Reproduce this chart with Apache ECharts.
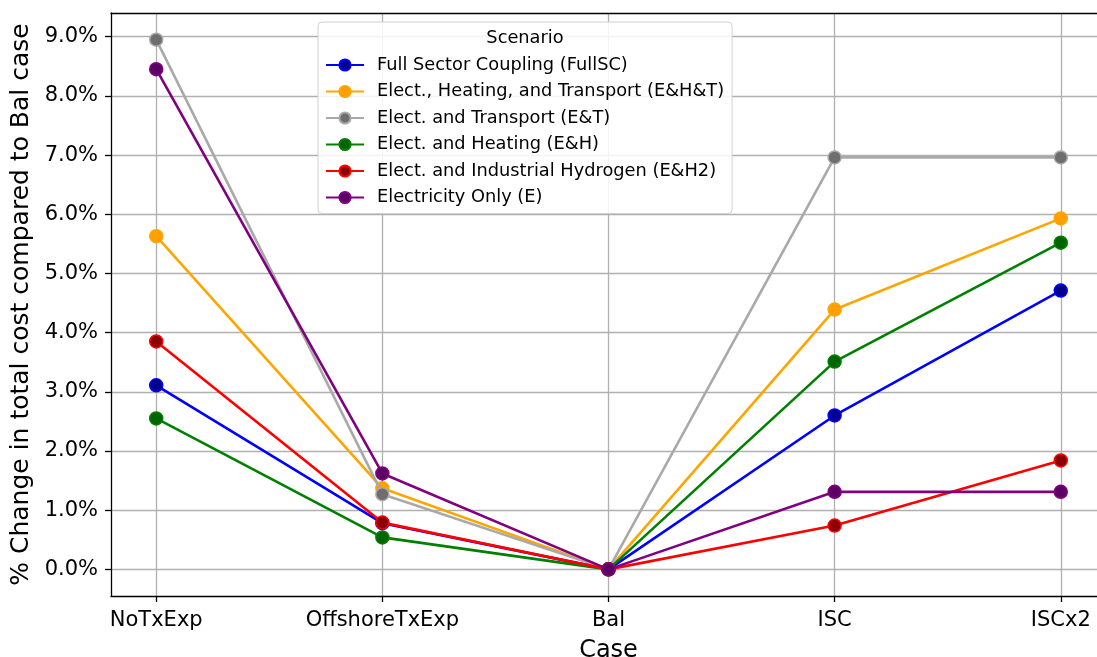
<!DOCTYPE html>
<html>
<head>
<meta charset="utf-8">
<script src="https://cdn.jsdelivr.net/npm/echarts@6/dist/echarts.min.js"></script>
<style>
html,body{margin:0;padding:0;background:#fff;}
#c{width:1097px;height:657px;}
</style>
</head>
<body>
<div id="c"></div>
<script>
// ---- data ----
const categories = ['NoTxExp', 'OffshoreTxExp', 'Bal', 'ISC', 'ISCx2'];
const yTicks = [0, 1, 2, 3, 4, 5, 6, 7, 8, 9];
const seriesNames = [
  'Full Sector Coupling (FullSC)',
  'Elect., Heating, and Transport (E&H&T)',
  'Elect. and Transport (E&T)',
  'Elect. and Heating (E&H)',
  'Elect. and Industrial Hydrogen (E&H2)',
  'Electricity Only (E)'
];
const fullSC = [3.11, 0.78, 0.0, 2.60, 4.71];
const eht    = [5.63, 1.37, 0.0, 4.39, 5.93];
const et     = [8.95, 1.27, 0.0, 6.96, 6.96];
const eh     = [2.55, 0.54, 0.0, 3.51, 5.52];
const eh2    = [3.85, 0.79, 0.0, 0.74, 1.84];
const eOnly  = [8.45, 1.62, 0.0, 1.31, 1.31];
const seriesValues = [fullSC, eht, et, eh, eh2, eOnly];

// ---- styles ----
const lineColors   = ['#0000ff', '#ffa500', '#a9a9a9', '#008000', '#ff0000', '#800080'];
const markerColors = ['#00008b', '#ff9f00', '#6e6e6e', '#006400', '#8b0000', '#5c0066'];
const FONT = 'DejaVu Sans';

const chart = echarts.init(document.getElementById('c'), null, {renderer: 'canvas'});

const series = seriesNames.map((name, i) => ({
  name: name,
  type: 'line',
  data: seriesValues[i].map((v, k) => [k, v]),
  symbol: 'circle',
  symbolSize: 13,
  lineStyle: {color: lineColors[i], width: 2.6},
  itemStyle: {color: markerColors[i], borderColor: lineColors[i], borderWidth: 1.5},
  emphasis: {disabled: true},
  z: 3 + i
}));

chart.setOption({
  animation: false,
  backgroundColor: '#ffffff',
  grid: {left: 111, top: 13, width: 995, height: 583, containLabel: false, outerBoundsMode: 'none'},
  xAxis: [{
    type: 'value',
    min: -0.2, max: 4.2,
    name: 'Case',
    nameLocation: 'middle',
    nameGap: 43,
    nameTextStyle: {fontFamily: FONT, fontSize: 24, color: '#000'},
    axisLine: {show: true, onZero: false, lineStyle: {color: '#000', width: 1.3}},
    axisTick: {show: true, length: 6, customValues: [0, 1, 2, 3, 4], lineStyle: {color: '#000', width: 1.3}},
    axisLabel: {
      customValues: [0, 1, 2, 3, 4],
      formatter: v => categories[Math.round(v)],
      fontFamily: FONT, fontSize: 21, color: '#000', margin: 14
    },
    splitLine: {show: true, lineStyle: {color: '#b0b0b0', width: 1.3}}
  }, {
    type: 'value',
    position: 'top',
    min: -0.2, max: 4.2,
    axisLine: {show: true, onZero: false, lineStyle: {color: '#000', width: 1.3}},
    axisTick: {show: false},
    axisLabel: {show: false},
    splitLine: {show: false}
  }],
  yAxis: {
    type: 'value',
    min: -0.45, max: 9.4,
    name: '% Change in total cost compared to Bal case',
    nameLocation: 'middle',
    nameGap: 75,
    nameRotate: 90,
    nameTextStyle: {fontFamily: FONT, fontSize: 25, color: '#000'},
    axisLine: {show: true, onZero: false, lineStyle: {color: '#000', width: 1.3}},
    axisTick: {show: true, length: 6, customValues: yTicks, lineStyle: {color: '#000', width: 1.3}},
    axisLabel: {
      customValues: yTicks,
      formatter: v => v.toFixed(1) + '%',
      fontFamily: FONT, fontSize: 21, color: '#000', margin: 13
    },
    splitLine: {show: true, lineStyle: {color: '#b0b0b0', width: 1.3}}
  },
  legend: {
    orient: 'vertical',
    left: 318, top: 22,
    padding: [34, 8, 7, 7],
    itemWidth: 38, itemHeight: 14, itemGap: 8.5,
    data: seriesNames,
    textStyle: {fontFamily: FONT, fontSize: 17.8, color: '#000', padding: [0, 0, 0, 8]},
    backgroundColor: 'rgba(255,255,255,0.85)',
    borderColor: '#d0d0d0', borderWidth: 1, borderRadius: 4,
    selectedMode: false
  },
  graphic: [{
    type: 'text',
    x: 525, y: 38, z: 100,
    style: {text: 'Scenario', fontFamily: FONT, fontSize: 17.8, fill: '#000', align: 'center', verticalAlign: 'middle'}
  }],
  series: series
});
</script>
</body>
</html>
